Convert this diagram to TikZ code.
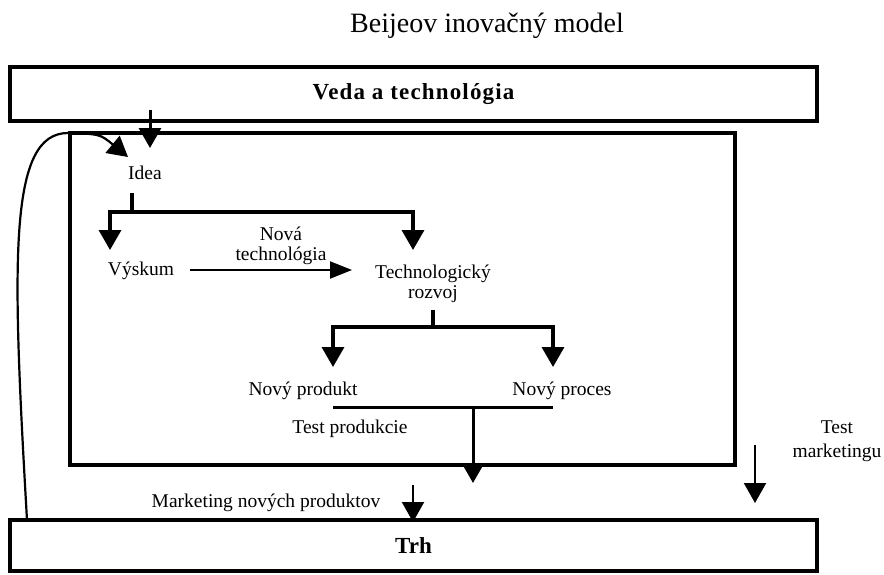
\documentclass[tikz,border=0pt]{standalone}
\usepackage{fontspec}
\setmainfont{Liberation Serif}
\usetikzlibrary{arrows.meta}
\begin{document}
\begin{tikzpicture}[x=1pt,y=-1pt,
  every node/.style={inner sep=0pt, outer sep=0pt},
  txt/.style={anchor=base, align=center, font=\fontsize{19.5}{20}\selectfont},
  bigbox/.style={draw, line width=4pt, minimum width=807pt},
  tip/.style={-{Triangle[width=22pt,length=20pt]}},
  branch/.style={line width=3.5pt},
  shaft/.style={line width=3pt},
  thinline/.style={line width=2.2pt}]
\useasboundingbox (0,0) rectangle (884,574);

% title
\node[anchor=base, font=\fontsize{28}{30}\selectfont] (title) at (487,32) {Beijeov inovačný model};

% outer boxes and the inner frame
\node[bigbox, minimum height=54pt,
      font=\bfseries\fontsize{23}{26}\selectfont\addfontfeature{LetterSpace=5}]
      (veda) at (413.5,94) {Veda a technológia};
\node[bigbox, minimum height=51pt, font=\bfseries\fontsize{23}{26}\selectfont]
      (trh) at (413.5,545.5) {Trh};
\node[draw, line width=4pt, minimum width=665pt, minimum height=332pt] (frame) at (402.5,299) {};

% labels (two-line labels are placed by the baseline of their last line)
\node[txt] (idea) at (145,179) {Idea};
\node[txt] (vyskum) at (141,275) {Výskum};
\node[txt] (novatech) at (281,260) {Nová\\technológia};
\node[txt] (techrozvoj) at (433,298) {Technologický\\rozvoj};
\node[txt] (produkt) at (303,395) {Nový produkt};
\node[txt] (proces) at (562,395) {Nový proces};
\node[txt] (testprod) at (350,433) {Test produkcie};
\node[txt] (marketing) at (266,507) {Marketing nových produktov};
\node[txt, font=\fontsize{19.5}{24}\selectfont] (testmark) at (837,457) {Test\\marketingu};

% connector end points
\coordinate (vedaout) at (150,110);
\coordinate (ideain) at (150,148);
\coordinate (trhout) at (27,520);
\coordinate (corner) at (68,133);
\coordinate (feedin) at (128,157);
\coordinate (ideaout) at (132,193);
\coordinate (ideasplit) at (132,212);
\coordinate (vyskumin) at (110,250);
\coordinate (techin) at (413,250);
\coordinate (vyskumout) at (190,270);
\coordinate (techtip) at (352,270);
\coordinate (techout) at (433,310);
\coordinate (techsplit) at (433,327);
\coordinate (produktin) at (333,367);
\coordinate (procesin) at (553,367);
\coordinate (testL) at (333,407);
\coordinate (testR) at (553,407);
\coordinate (testmid) at (473,407);
\coordinate (testtip) at (473,483);
\coordinate (marktop) at (413,485);
\coordinate (marktip) at (413,522);
\coordinate (tmtop) at (755,445);
\coordinate (tmtip) at (755,503);

% science feeds the idea
\draw[shaft, tip] (vedaout) -- (ideain);
% feedback from the market
\draw[thinline, tip] (trhout) .. controls (12,260) and (8,133) .. (corner)
      .. controls (100,134) .. (feedin);
% idea branches to research and technological development
\draw[branch] (ideaout) -- (ideasplit);
\draw[branch, tip] (ideasplit) -| (vyskumin);
\draw[branch, tip] (ideasplit) -| (techin);
% new technology
\draw[thinline, -{Triangle[width=17pt,length=22pt]}] (vyskumout) -- (techtip);
% development branches to product and process
\draw[branch] (techout) -- (techsplit);
\draw[branch, tip] (techsplit) -| (produktin);
\draw[branch, tip] (techsplit) -| (procesin);
% production test
\draw[shaft] (testL) -- (testR);
\draw[shaft, tip] (testmid) -- (testtip);
% marketing arrows
\draw[thinline, tip] (marktop) -- (marktip);
\draw[thinline, tip] (tmtop) -- (tmtip);
\end{tikzpicture}
\end{document}
